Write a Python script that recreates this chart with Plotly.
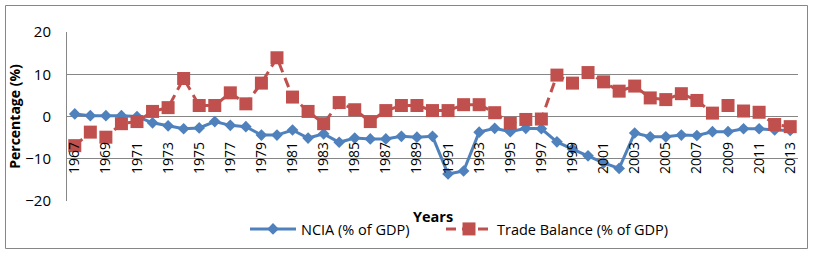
import plotly.graph_objects as go

years = list(range(1967, 2014))
ncia = [0.6, 0.2, 0.2, 0.2, 0.0, -1.5, -2.2, -2.9, -2.7, -1.2, -2.1, -2.4, -4.4, -4.4,
        -3.2, -5.1, -4.1, -6.1, -5.1, -5.3, -5.3, -4.7, -4.9, -4.7, -13.6, -12.9, -3.7,
        -2.8, -3.6, -2.8, -2.9, -6.0, -7.7, -9.3, -11.0, -12.3, -3.9, -4.8, -4.8, -4.4,
        -4.5, -3.6, -3.6, -2.9, -2.9, -3.2, -3.3]
trade = [-6.9, -3.7, -4.9, -1.7, -1.2, 1.2, 2.1, 9.0, 2.6, 2.6, 5.6, 3.0, 7.9, 13.9,
         4.6, 1.2, -1.7, 3.3, 1.6, -1.2, 1.4, 2.6, 2.6, 1.4, 1.4, 2.8, 2.8, 0.9, -1.6,
         -0.7, -0.6, 9.8, 7.9, 10.4, 8.2, 6.0, 7.2, 4.4, 4.0, 5.4, 3.8, 0.8, 2.6, 1.3,
         1.0, -1.9, -2.4]
tick_years = list(range(1967, 2014, 2))
y_ticks = [-20, -10, 0, 10, 20]

FONT = "Open Sans"
GRID = "#868686"

fig = go.Figure()
fig.add_trace(go.Scatter(
    x=years, y=ncia, name="NCIA (% of GDP)", mode="lines+markers",
    line=dict(color="#4F81BD", width=3),
    marker=dict(symbol="diamond", size=9, color="#4F81BD"),
    legend="legend",
))
fig.add_trace(go.Scatter(
    x=years, y=trade, name="Trade Balance (% of GDP)", mode="lines+markers",
    line=dict(color="#C0504D", width=3, dash="10px,6px"),
    marker=dict(symbol="square", size=13, color="#C0504D"),
    legend="legend2",
))

W, H = 814, 254
L, R, T, B = 67, 16, 32, 53
pw, ph = W - L - R, H - T - B

def px_x(p):
    return (p - L) / pw

def px_y(p):
    return (H - B - p) / ph

leg_common = dict(orientation="h", xanchor="left", y=px_y(229), yanchor="middle",
                  font=dict(size=14.5), itemwidth=46, bgcolor="rgba(0,0,0,0)")

fig.update_layout(
    width=W, height=H,
    margin=dict(l=L, r=R, t=T, b=B, autoexpand=False),
    paper_bgcolor="white", plot_bgcolor="white",
    font=dict(family=FONT, size=14, color="#000"),
    showlegend=True,
    legend=dict(x=px_x(245), **leg_common),
    legend2=dict(x=px_x(441), **leg_common),
    xaxis=dict(
        range=[1966.5, 2013.5], tickmode="array", tickvals=tick_years,
        ticktext=[str(y) for y in tick_years], tickangle=-90,
        anchor="free", position=0.5, showgrid=False, zeroline=False, showline=False,
        ticks="outside", ticklen=19, tickcolor="rgba(0,0,0,0)", tickfont=dict(size=14),
        automargin=False,
    ),
    yaxis=dict(
        range=[-20, 20], tickmode="array", tickvals=y_ticks,
        showgrid=True, gridcolor=GRID, gridwidth=1, zeroline=False,
        showline=True, linecolor=GRID, linewidth=1,
        ticks="outside", ticklen=12, tickcolor="rgba(0,0,0,0)",
        tickfont=dict(size=15), automargin=False,
        title=dict(text="Percentage (%)", font=dict(size=14, weight="bold"), standoff=1),
    ),
    annotations=[dict(text="Years", xref="paper", yref="paper", x=0.5, y=px_y(216),
                      xanchor="center", yanchor="middle", showarrow=False,
                      font=dict(size=14.5, weight="bold"))],
    shapes=[dict(type="rect", xref="paper", yref="paper",
                 x0=px_x(5.5), x1=px_x(807.5), y0=px_y(248.5), y1=px_y(5.5),
                 line=dict(color=GRID, width=1), layer="below")],
)

fig.write_html("out.html", config={"displayModeBar": False},
               post_script="document.body.style.margin='0';")
